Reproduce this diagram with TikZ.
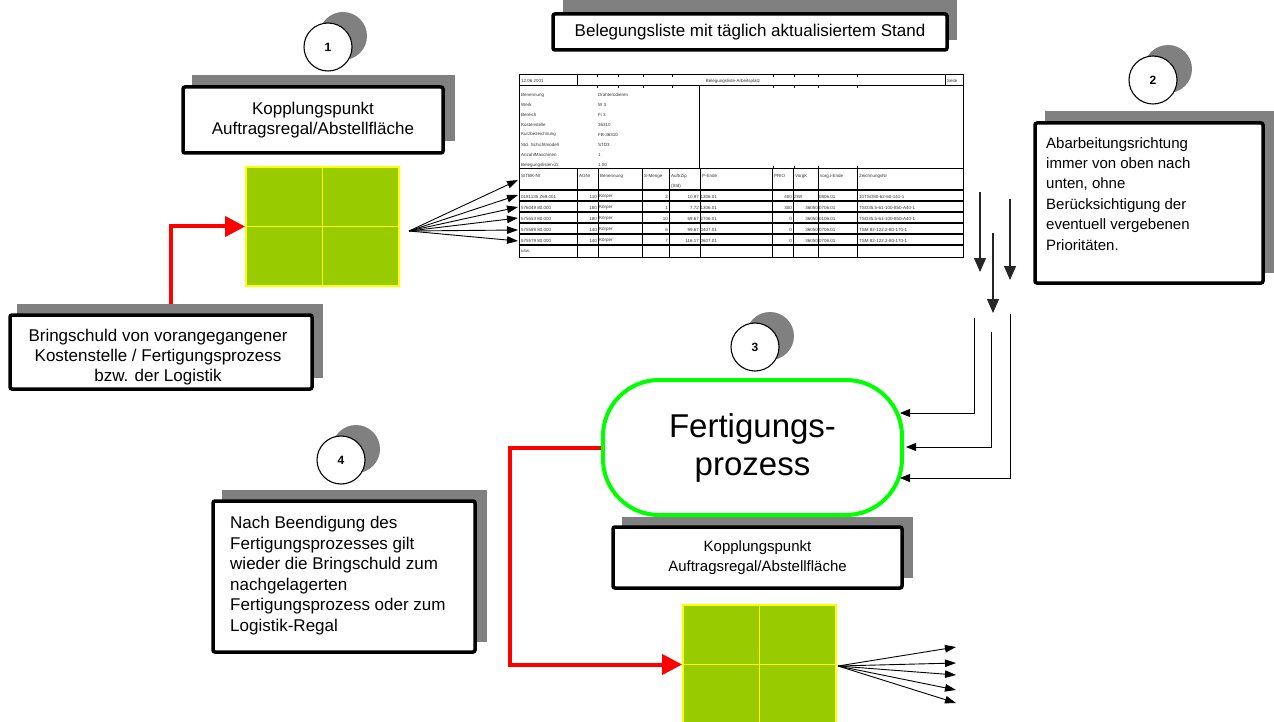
\documentclass[tikz,border=0pt]{standalone}
\usepackage{fontspec}
\setmainfont{Liberation Sans}
\usetikzlibrary{arrows.meta}
\definecolor{shd}{HTML}{808080}
\definecolor{cellgreen}{HTML}{99CC00}
\definecolor{cellyellow}{HTML}{FFFF00}
\definecolor{fpgreen}{HTML}{00FF00}
\definecolor{arrred}{HTML}{FF0000}
\newcommand{\fsz}[2]{\fontsize{#1}{#2}\selectfont}
\begin{document}
\begin{tikzpicture}[x=1pt,y=-1pt,
 shadowbox/.style={fill=shd,draw=none,inner sep=0pt},
 blackbox/.style={draw=black,line width=3.5pt,fill=white,rounded corners=2pt,inner sep=0pt,align=center},
 numshadow/.style={circle,fill=shd,draw=none,minimum size=48pt,inner sep=0pt},
 numcircle/.style={circle,draw=black,line width=1.1pt,fill=white,minimum size=48pt,inner sep=0pt,font=\fsz{12}{14}\bfseries},
 cellgrid/.style={fill=cellgreen,draw=cellyellow,line width=1.8pt,inner sep=0pt},
 gridline/.style={draw=cellyellow,line width=1.8pt},
 redarrow/.style={draw=arrred,line width=4pt,line join=miter,-{Triangle[length=20pt,width=20pt]}},
 fanarrow/.style={draw=black,line width=0.9pt,-{Triangle[length=11pt,width=7.5pt]}},
 downarrow/.style={draw=black!85,line width=1.1pt,-{Triangle[length=14pt,width=12pt]}},
 feedarrow/.style={draw=black,line width=0.9pt,-{Triangle[length=10pt,width=8pt]}},
 tcell/.style={font=\fsz{4.5}{5},text=black!80,inner sep=0pt,anchor=west},
 tcellr/.style={font=\fsz{4.5}{5},text=black!80,inner sep=0pt,anchor=east},
 tline/.style={draw=black,line width=1pt},
 trowline/.style={draw=black,line width=1.5pt},
 boxtext/.style={inner sep=0pt,align=left},
]
\useasboundingbox (0,0) rectangle (1274,722);

% ---------- numbered circles ----------
\node[numshadow] (c1s) at (343,36) {};
\node[numcircle] (c1) at (328,47) {1};
\node[numshadow] (c2s) at (1168,69) {};
\node[numcircle] (c2) at (1153,80) {2};
\node[numshadow] (c3s) at (770,336) {};
\node[numcircle] (c3) at (755,347) {3};
\node[numshadow] (c4s) at (356,449) {};
\node[numcircle] (c4) at (341,460) {4};

% ---------- boxes with shadows ----------
\node[shadowbox,minimum width=394pt,minimum height=42pt] (bls) at (760,19) {};
\node[blackbox,minimum width=394pt,minimum height=36pt,font=\fsz{17}{20}] (bl) at (750,32) {Belegungsliste mit täglich aktualisiertem Stand};

\node[shadowbox,minimum width=263pt,minimum height=66pt] (kp1s) at (323.5,108) {};
\node[blackbox,minimum width=260pt,minimum height=66pt,font=\fsz{17}{20.5}] (kp1) at (313,120) {Kopplungspunkt\\Auftragsregal/Abstellfläche};

\node[shadowbox,minimum width=231pt,minimum height=162pt] (b2s) at (1160.5,192) {};
\node[blackbox,minimum width=228pt,minimum height=160pt] (b2) at (1149,203) {};
\node[boxtext,anchor=north west,font=\fsz{15}{20.4}] (b2t) at (1046,137) {Abarbeitungsrichtung\\immer von oben nach\\unten, ohne\\Berücksichtigung der\\eventuell vergebenen\\Prioritäten.};

\node[shadowbox,minimum width=306pt,minimum height=74pt] (bss) at (170,341) {};
\node[blackbox,minimum width=302pt,minimum height=74pt] (bs) at (161,352) {};
\node[inner sep=0pt,align=center,font=\fsz{17}{20}] (bst) at (158,357) {Bringschuld von vorangegangener\\Kostenstelle / Fertigungsprozess\\bzw. der Logistik};

\node[shadowbox,minimum width=265pt,minimum height=152pt] (b4s) at (354.5,566) {};
\node[blackbox,minimum width=262pt,minimum height=151pt] (b4) at (344,576.5) {};
\node[boxtext,anchor=north west,font=\fsz{17}{20.5}] (b4t) at (230,516) {Nach Beendigung des\\Fertigungsprozesses gilt\\wieder die Bringschuld zum\\nachgelagerten\\Fertigungsprozess oder zum\\Logistik-Regal};

\node[shadowbox,minimum width=291pt,minimum height=61pt] (kp2s) at (767.5,547.5) {};
\node[blackbox,minimum width=289pt,minimum height=61pt,font=\fsz{15}{20}] (kp2) at (757.5,557.5) {Kopplungspunkt\\Auftragsregal/Abstellfläche};

% ---------- Fertigungsprozess ----------
\node[draw=fpgreen,line width=4pt,fill=white,rounded corners=56pt,minimum width=299pt,minimum height=135pt,align=center,inner sep=0pt,font=\fsz{33}{38}] (fp) at (752.5,447.5) {Fertigungs-\\prozess};

% ---------- green grids ----------
\node[cellgrid,minimum width=153pt,minimum height=119pt] (g1) at (322.5,226.5) {};
\draw[gridline] (g1.north) -- (g1.south);
\draw[gridline] (g1.west) -- (g1.east);
\node[cellgrid,minimum width=153pt,minimum height=119pt] (g2) at (759.5,664.5) {};
\draw[gridline] (g2.north) -- (g2.south);
\draw[gridline] (g2.west) -- (g2.east);

% ---------- red arrows ----------
\coordinate (r1s) at (171,304);
\draw[redarrow] (r1s) |- (g1.west);
\coordinate (r2c) at (510,664.5);
\draw[redarrow] (fp.west) -| (r2c) -- (g2.west);

% ---------- table ----------
\draw[tline] (519,75) rectangle (963,257);
\draw[tline] (519,86) -- (963,86);
\draw[tline] (577,75) -- (577,86);
\draw[tline] (945,75) -- (945,86);
\draw[tline] (699,86) -- (699,169);
\draw[tline] (519,169) -- (963,169);
\foreach \x in {577,598,642,669,700,772,793,818,857} {\draw[tline] (\x,169) -- (\x,257);}
\foreach \y in {190,201,212,223,234,245} {\draw[trowline] (519,\y) -- (963,\y);}
\foreach \x in {597,618,643,672,773,794,818,857} {\draw[line width=0.8pt] (\x,75) -- ++(0,2.5); \draw[line width=0.8pt] (\x,86) -- ++(0,2.5);}
\foreach \x in {773,794,818,857} {\draw[line width=0.8pt] (\x,169) -- ++(0,-2.5);}

\node[tcell] (th1) at (521,81) {12.06.2001};
\node[tcell,anchor=center] (th2) at (733,81) {Belegungsliste-Arbeitsplatz};
\node[tcell] (th3) at (947,81) {Seite};
\foreach \y/\l/\v [count=\n] in {95/Benennung/Drahterodieren,104.5/Werk/W 3,114.5/Bereich/Fi 3,124.5/Kostenstelle/36310,134.5/Kurzbezeichnung/FB-36310,145/Std. Schichtmodell/STD3,155/AnzahlMaschinen/1,165/Belegungslisten-Zr./1.00}
 {\node[tcell] (il\n) at (521,\y) {\l}; \node[tcell] (iv\n) at (598,\y) {\v};}
\foreach \x/\t [count=\n] in {521/SITBK-Nr,579/AGNr,600/Benennung,644/S-Menge,671/AuftrZip,702/P-Ende,774/PRIO,795/VorgK,820/vorg.l-Ende,859/ZeichnungsNr}
 {\node[tcell] (hd\n) at (\x,176) {\t};}
\node[tcell] (hdstd) at (671,186) {(Std)};
\foreach \y/\a/\b/\c/\d/\e/\f/\g/\h/\i [count=\n] in {
 196.5/0181135 Z69.001/110/2/10.87/1306.01/400//0806.01/10TSO80-62-60-141-1,
 207.5/576049 80.000/180/1/7.72/1306.01/300/36050/0706.01/TSO35.5-61-100-850-A40-1,
 218.5/575553 80.000/180/10/69.67/2706.01/0/36050/0106.01/TSO35.5-61-100-850-A40-1,
 229.5/575589 80.000/140/6/99.67/0407.01/0/36050/0706.01/TSM 82-122.2-80-170-1,
 240.5/575579 80.000/140/7/116.17/0607.01/0/36050/0706.01/TSM 82-122.2-80-170-1}
 {\node[tcell] (d\n-a) at (521,\y) {\a};
  \node[tcellr] (d\n-b) at (597,\y) {\b};
  \node[tcell] (d\n-k) at (599,\y) {Körper};
  \node[tcellr] (d\n-c) at (668,\y) {\c};
  \node[tcellr] (d\n-d) at (699,\y) {\d};
  \node[tcell] (d\n-e) at (700.5,\y) {\e};
  \node[tcellr] (d\n-f) at (792,\y) {\f};
  \node[tcellr] (d\n-g) at (818,\y) {\g};
  \node[tcell] (d\n-h) at (819,\y) {\h};
  \node[tcell] (d\n-i) at (859,\y) {\i};}
\node[tcell] (zwi) at (794,196.5) {ZWI};
\node[tcell] (usw) at (521,251.5) {usw.};

% ---------- fan arrows ----------
\coordinate (fo1) at (409,231);
\foreach \y [count=\n] in {180,195,207,218,230,241} {
 \coordinate (ft\n) at (518,\y);
 \draw[fanarrow] (fo1) -- (ft\n);}
\coordinate (fo2) at (838,666);
\foreach \y [count=\n] in {647,663,675,690,703} {
 \coordinate (fu\n) at (956,\y);
 \draw[fanarrow] (fo2) -- (fu\n);}

% ---------- down arrows ----------
\coordinate (d1s) at (980,192); \coordinate (d1e) at (980,272);
\coordinate (d2s) at (993,233); \coordinate (d2e) at (993,313);
\coordinate (d3s) at (1010,199); \coordinate (d3e) at (1010,280);
\draw[downarrow] (d1s) -- (d1e);
\draw[downarrow] (d2s) -- (d2e);
\draw[downarrow] (d3s) -- (d3e);

% ---------- feed lines into process ----------
\coordinate (f1s) at (974,318); \coordinate (f1e) at (900,413);
\coordinate (f2s) at (991,332); \coordinate (f2e) at (906,447);
\coordinate (f3s) at (1010,314); \coordinate (f3e) at (900,478);
\draw[feedarrow] (f1s) |- (f1e);
\draw[feedarrow] (f2s) |- (f2e);
\draw[feedarrow] (f3s) |- (f3e);
\end{tikzpicture}
\end{document}
